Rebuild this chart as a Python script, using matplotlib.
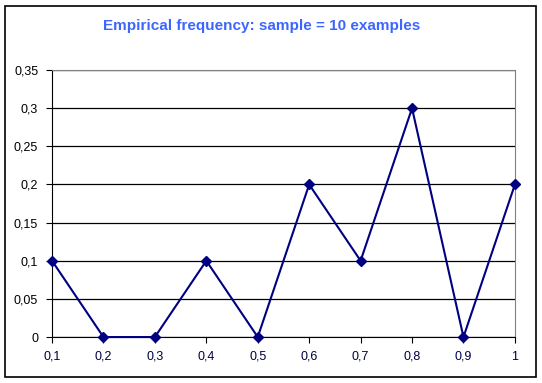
import matplotlib
matplotlib.use('Agg')
import matplotlib.pyplot as plt
import matplotlib.ticker as ticker
from matplotlib.patches import Rectangle

# Data
x_values = [0.1, 0.2, 0.3, 0.4, 0.5, 0.6, 0.7, 0.8, 0.9, 1.0]
frequency = [0.1, 0.0, 0.0, 0.1, 0.0, 0.2, 0.1, 0.3, 0.0, 0.2]
y_ticks = [0, 0.05, 0.1, 0.15, 0.2, 0.25, 0.3, 0.35]

plt.rcParams['font.family'] = ['Liberation Sans', 'DejaVu Sans']

fig = plt.figure(figsize=(5.42, 3.83), dpi=100)
ax = fig.add_axes([0.096, 0.120, 0.854, 0.697])

# outer frame like an Excel chart area
fig.patches.append(Rectangle((5 / 542, 6 / 383), 531 / 542, 371 / 383,
                             transform=fig.transFigure, fill=False,
                             edgecolor='black', linewidth=1.2))

ax.plot(x_values, frequency, color='#000080', linewidth=1.5,
        marker='D', markersize=5, clip_on=False, zorder=3)

ax.set_xlim(0.1, 1.0)
ax.set_ylim(0, 0.35)
ax.set_xticks(x_values)
ax.set_yticks(y_ticks)

def comma(v, pos):
    s = ('%.2f' % v).rstrip('0').rstrip('.')
    return s.replace('.', ',')

ax.xaxis.set_major_formatter(ticker.FuncFormatter(comma))
ax.yaxis.set_major_formatter(ticker.FuncFormatter(comma))

ax.yaxis.grid(True, color='black', linewidth=0.9)
ax.set_axisbelow(True)
for side in ['top', 'right']:
    ax.spines[side].set_color('#808080')
for side in ['left', 'bottom']:
    ax.spines[side].set_color('black')
ax.tick_params(axis='both', direction='out', length=4, labelsize=9,
               colors='black', pad=6)
ax.tick_params(axis='x', labelcolor='#000040')

fig.text(262 / 542, 1 - 26 / 383, 'Empirical frequency: sample = 10 examples',
         ha='center', va='center', color='#3d66ff', fontsize=11,
         fontweight='bold')

plt.savefig('out.png', dpi=100)
